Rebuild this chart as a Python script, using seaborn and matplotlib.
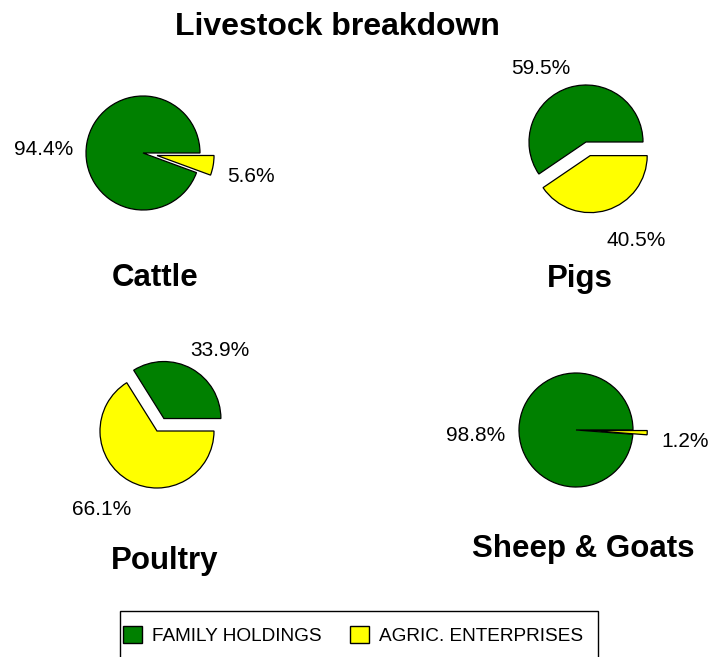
import numpy as np
import matplotlib
matplotlib.use("Agg")
import matplotlib.pyplot as plt
from matplotlib.patches import Patch, Rectangle
import seaborn as sns


# share of livestock (%) by type of holding
ANIMALS = ["Cattle", "Pigs", "Poultry", "Sheep & Goats"]
FAMILY_HOLDINGS = [94.4, 59.5, 33.9, 98.8]
AGRIC_ENTERPRISES = [5.6, 40.5, 66.1, 1.2]
SECTORS = ["FAMILY HOLDINGS", "AGRIC. ENTERPRISES"]

COLORS = ["#008000", "#FFFF00"]

W, H = 712, 657
R_PX = 57          # pie radius in pixels
HALF = 2.6         # axes half width in pie radii

# pie centre (px) and subtitle baseline (px) for each panel
PANELS = [
    ((143, 153), (155, 286)),
    ((586, 142), (580, 287)),
    ((157, 431), (165, 569)),
    ((576, 430), (583, 557)),
]

sns.set_theme(style="white")
plt.rcParams["font.family"] = ["Liberation Sans", "DejaVu Sans"]
plt.rcParams["text.color"] = "black"

fig = plt.figure(figsize=(W / 100, H / 100), dpi=100)
fig.patch.set_facecolor("white")


def draw_pie(ax, values):

    small = int(np.argmin(values))
    explode = [0.25 if i == small else 0 for i in range(len(values))]

    wedges, _ = ax.pie(
        values,
        colors=COLORS,
        startangle=0,
        counterclock=True,
        explode=explode,
        radius=1,
        wedgeprops=dict(edgecolor="black", linewidth=0.9),
    )

    # percentage labels outside the slices, Excel-like placement
    for w, v in zip(wedges, values):
        mid = np.deg2rad((w.theta1 + w.theta2) / 2)
        c, s = np.cos(mid), np.sin(mid)
        cx, cy = w.center
        ha = "left" if c > 0.25 else ("right" if c < -0.25 else "center")
        if abs(s) > 0.25:
            va = "bottom" if s > 0 else "top"
            x = cx + 0.95 * c
            y = cy + (1.17 if s > 0 else 1.38) * s
        else:
            va = "center"
            x = cx + 1.25 * c
            y = cy + 1.25 * s - 0.15
        ax.text(
            x, y, f"{v:.1f}%",
            ha=ha, va=va,
            fontsize=15,
            color="black",
            clip_on=False,
        )

    ax.set_xlim(-HALF, HALF)
    ax.set_ylim(-HALF, HALF)
    ax.set_aspect("equal")
    ax.axis("off")


for name, fam, agr, (centre, sub) in zip(
    ANIMALS, FAMILY_HOLDINGS, AGRIC_ENTERPRISES, PANELS
):
    cx, cy = centre
    size = 2 * HALF * R_PX
    ax = fig.add_axes([
        (cx - size / 2) / W,
        (H - cy - size / 2) / H,
        size / W,
        size / H,
    ])
    ax.patch.set_alpha(0)
    draw_pie(ax, [fam, agr])

    fig.text(
        sub[0] / W, 1 - sub[1] / H, name,
        ha="center", va="baseline",
        fontsize=22.5, fontweight="bold",
        color="black",
    )

fig.text(
    337.5 / W, 1 - 35 / H, "Livestock breakdown",
    ha="center", va="baseline",
    fontsize=23, fontweight="bold",
    color="black",
)

# legend
handles = [
    Patch(facecolor=c, edgecolor="black", linewidth=1)
    for c in COLORS
]

leg = fig.legend(
    handles,
    SECTORS,
    loc="upper left",
    bbox_to_anchor=(123 / W, 1 - 626 / H),
    ncol=2,
    frameon=False,
    fontsize=13.7,
    borderpad=0,
    borderaxespad=0,
    handlelength=1.0,
    handleheight=1.0,
    handletextpad=0.55,
    columnspacing=1.45,
)
for t in leg.get_texts():
    t.set_color("black")

fig.add_artist(
    Rectangle(
        (120 / W, -0.05),
        478 / W,
        (H - 611) / H + 0.05,
        transform=fig.transFigure,
        fill=False,
        edgecolor="black",
        linewidth=1,
    )
)

fig.savefig("out.png", dpi=100, facecolor="white")
